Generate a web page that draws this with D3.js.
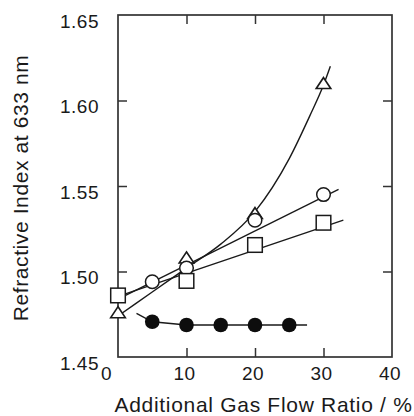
<!DOCTYPE html>
<html><head><meta charset="utf-8">
<script src="https://cdn.jsdelivr.net/npm/d3@7"></script>
<style>
html,body{margin:0;padding:0;background:#fff;}
svg{display:block;font-family:"Liberation Sans",Arial,Helvetica,sans-serif;}
</style></head>
<body>
<svg id="chart" width="414" height="416"></svg>
<script>
// ---- data ----
const xTickValues = [0, 10, 20, 30, 40];
const yTickValues = [1.45, 1.50, 1.55, 1.60, 1.65];
const xTitle = "Additional Gas Flow Ratio / %";
const yTitle = "Refractive Index at 633 nm";

const triX = [0, 10, 20, 30];
const triY = [1.476, 1.508, 1.534, 1.610];
const circX = [5, 10, 20, 30];
const circY = [1.494, 1.502, 1.530, 1.545];
const sqX = [0, 10, 20, 30];
const sqY = [1.486, 1.4945, 1.5155, 1.5285];
const dotX = [5, 10, 15, 20, 25];
const dotY = [1.4706, 1.4687, 1.4687, 1.4687, 1.4687];

// guide (fit) lines drawn in the figure
const triFitX = [0, 5, 10, 15, 20, 25, 28, 30, 31];
const triFitY = [1.474, 1.488, 1.502, 1.516, 1.535, 1.566, 1.591, 1.609, 1.620];
const circFitX = [0, 32.2];
const circFitY = [1.4838, 1.548];
const sqFitX = [0, 32.9];
const sqFitY = [1.4855, 1.530];
const dotFitX = [2.7, 5, 10, 27.6];
const dotFitY = [1.4755, 1.4706, 1.4687, 1.4687];

// ---- layout ----
const L = 118, R = 392, T = 15, B = 357;
const ink = "#1a1a1a";
const svg = d3.select("#chart");
const x = d3.scaleLinear().domain([0, 40]).range([L, R]);
const y = d3.scaleLinear().domain([1.45, 1.65]).range([B, T]);

const zip = (a, b) => a.map((v, i) => [v, b[i]]);

// frame
svg.append("rect").attr("x", L).attr("y", T).attr("width", R - L).attr("height", B - T)
  .attr("fill", "none").attr("stroke", "#333").attr("stroke-width", 1.7);

// inner ticks (all four sides)
const inner = [10, 20, 30];
const innerY = [1.50, 1.55, 1.60];
function tickAxis(axis, tx) {
  const g = svg.append("g").attr("transform", tx).call(axis);
  g.select(".domain").remove();
  g.selectAll("text").remove();
  g.selectAll("line").attr("stroke", "#333").attr("stroke-width", 1.5);
}
tickAxis(d3.axisBottom(x).tickValues(inner).tickSize(-9), `translate(0,${B})`);
tickAxis(d3.axisTop(x).tickValues(inner).tickSize(-9), `translate(0,${T})`);
tickAxis(d3.axisLeft(y).tickValues(innerY).tickSize(-9), `translate(${L},0)`);
tickAxis(d3.axisRight(y).tickValues(innerY).tickSize(-9), `translate(${R},0)`);

// tick labels
const gx = svg.append("g").attr("transform", `translate(0,${B})`)
  .call(d3.axisBottom(x).tickValues(xTickValues).tickSize(0).tickFormat(d3.format("d")));
gx.select(".domain").remove();
gx.selectAll("text").attr("font-family", null).attr("font-size", 19).attr("fill", ink)
  .attr("letter-spacing", 0.5).attr("y", 0)
  .attr("x", d => d === 0 ? -12 : -2.5)
  .attr("dy", "23px");

const gy = svg.append("g").attr("transform", `translate(${L},0)`)
  .call(d3.axisLeft(y).tickValues(yTickValues).tickSize(0).tickFormat(d3.format(".2f")));
gy.select(".domain").remove();
gy.selectAll("text").attr("font-family", null).attr("font-size", 19).attr("fill", ink)
  .attr("letter-spacing", 0.5).attr("x", -19).attr("dy", "12px");

// axis titles
svg.append("text").attr("x", 263.5).attr("y", 411.5).attr("text-anchor", "middle")
  .attr("font-size", 21).attr("letter-spacing", 0.7).attr("fill", ink).text(xTitle);
svg.append("text").attr("transform", "translate(28,188) rotate(-90)").attr("text-anchor", "middle")
  .attr("font-size", 21).attr("letter-spacing", 0.6).attr("fill", ink).text(yTitle);

// fit lines
const lineLin = d3.line().x(d => x(d[0])).y(d => y(d[1]));
const lineCurve = d3.line().x(d => x(d[0])).y(d => y(d[1])).curve(d3.curveMonotoneX);
const lines = svg.append("g").attr("fill", "none").attr("stroke", ink).attr("stroke-width", 1.4);
lines.append("path").attr("d", lineCurve(zip(triFitX, triFitY)));
lines.append("path").attr("d", lineLin(zip(circFitX, circFitY)));
lines.append("path").attr("d", lineLin(zip(sqFitX, sqFitY)));
lines.append("path").attr("d", lineLin(zip(dotFitX, dotFitY)));

// markers
const triSym = d3.symbol().type(d3.symbolTriangle).size(70);
svg.append("g").selectAll("path").data(zip(triX, triY)).join("path")
  .attr("transform", d => `translate(${x(d[0])},${y(d[1]) + 1.5}) scale(1.15,1)`)
  .attr("d", triSym()).attr("fill", "#fff").attr("stroke", ink).attr("stroke-width", 1.5);

svg.append("g").selectAll("circle").data(zip(circX, circY)).join("circle")
  .attr("cx", d => x(d[0])).attr("cy", d => y(d[1])).attr("r", 6.8)
  .attr("fill", "#fff").attr("stroke", ink).attr("stroke-width", 1.5);

svg.append("g").selectAll("rect").data(zip(sqX, sqY)).join("rect")
  .attr("x", d => x(d[0]) - 7.3).attr("y", d => y(d[1]) - 7.3)
  .attr("width", 14.6).attr("height", 14.6)
  .attr("fill", "#fff").attr("stroke", ink).attr("stroke-width", 1.5);

svg.append("g").selectAll("circle").data(zip(dotX, dotY)).join("circle")
  .attr("cx", d => x(d[0])).attr("cy", d => y(d[1])).attr("r", 7.3)
  .attr("fill", "#0d0d0d");
</script>
</body></html>
